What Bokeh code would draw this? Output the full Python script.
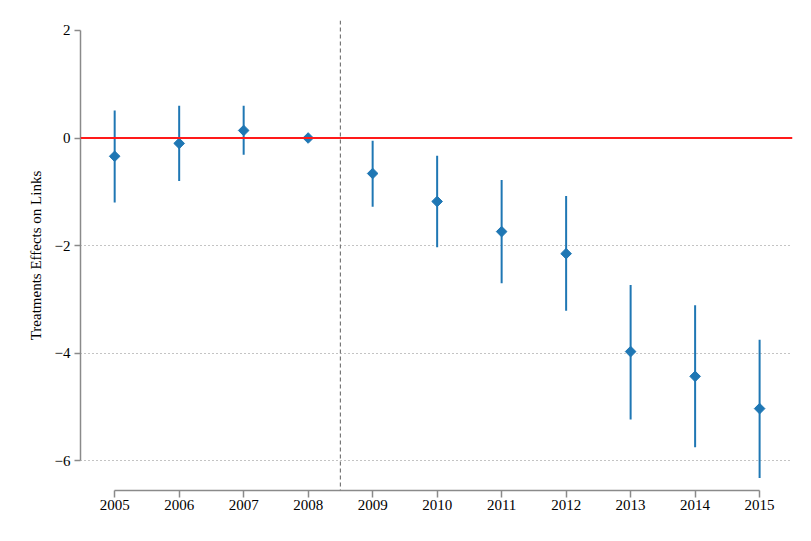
from bokeh.plotting import figure
from bokeh.models import Span, FixedTicker, CustomJSTickFormatter, Range1d, ColumnDataSource
from bokeh.embed import file_html
from bokeh.resources import INLINE
import numpy as np

# ---- data ----
years = [2005, 2006, 2007, 2008, 2009, 2010, 2011, 2012, 2013, 2014, 2015]
coef = [-0.34, -0.10, 0.14, 0.0, -0.66, -1.18, -1.74, -2.15, -3.97, -4.43, -5.03]
ci_low = [-1.20, -0.80, -0.31, float("nan"), -1.28, -2.03, -2.70, -3.21, -5.23, -5.75, -6.32]
ci_high = [0.51, 0.60, 0.60, float("nan"), -0.05, -0.33, -0.78, -1.08, -2.73, -3.11, -3.75]
y_ticks = [-6, -4, -2, 0, 2]
treatment_break = 2008.5
y_label = "Treatments Effects on Links"

FONT = "Liberation Serif"
BLUE = "#1f77b4"
AXIS_GRAY = "#8a8a8a"

src = ColumnDataSource(dict(year=years, coef=coef, lo=ci_low, hi=ci_high))

p = figure(width=795, height=525, output_backend="svg", toolbar_location=None,
           x_range=Range1d(2004.47, 2015.51), y_range=Range1d(-6.552, 2.184),
           min_border_left=80, min_border_right=3, min_border_top=20, min_border_bottom=35)
p.outline_line_color = None
p.background_fill_color = "white"
p.border_fill_color = "white"

# reference lines
p.add_layout(Span(location=0, dimension="width", line_color="#ff1a1a", line_width=2))
p.add_layout(Span(location=treatment_break, dimension="height", line_color="#777777",
                  line_width=1.2, line_dash="4 3"))

# CIs and points
p.segment(x0="year", y0="lo", x1="year", y1="hi", source=src, line_color=BLUE, line_width=2)
p.scatter(x="year", y="coef", source=src, marker="square", angle=np.pi / 4, size=7.5,
          fill_color=BLUE, line_color=BLUE)

# grid
p.xgrid.visible = False
p.ygrid.ticker = FixedTicker(ticks=[-6, -4, -2])
p.ygrid.grid_line_color = "#888888"
p.ygrid.grid_line_dash = "1 3"
p.ygrid.grid_line_width = 1

# axes
p.xaxis.ticker = FixedTicker(ticks=years)
p.xaxis.bounds = (min(years), max(years))
p.yaxis.ticker = FixedTicker(ticks=y_ticks)
p.yaxis.bounds = (min(y_ticks), max(y_ticks))
p.yaxis.formatter = CustomJSTickFormatter(code="return tick < 0 ? '\\u2212' + Math.abs(tick) : String(tick);")
p.yaxis.axis_label = y_label

for ax in (p.xaxis[0], p.yaxis[0]):
    ax.axis_line_color = AXIS_GRAY
    ax.axis_line_width = 1.5
    ax.major_tick_line_color = AXIS_GRAY
    ax.major_tick_line_width = 1.5
    ax.major_tick_in = 0
    ax.minor_tick_line_color = None
    ax.major_label_text_font = FONT
    ax.major_label_text_font_size = "15px"
    ax.major_label_text_color = "black"
    ax.axis_label_text_font = FONT
    ax.axis_label_text_font_size = "15px"
    ax.axis_label_text_font_style = "normal"
    ax.axis_label_text_color = "black"

p.xaxis.major_tick_out = 7
p.xaxis.major_label_standoff = 2
p.yaxis.major_tick_out = 6
p.yaxis.major_label_standoff = 4
p.yaxis.major_label_orientation = "horizontal"
p.yaxis.axis_label_standoff = 8

open("out.html", "w").write(file_html(p, INLINE))
